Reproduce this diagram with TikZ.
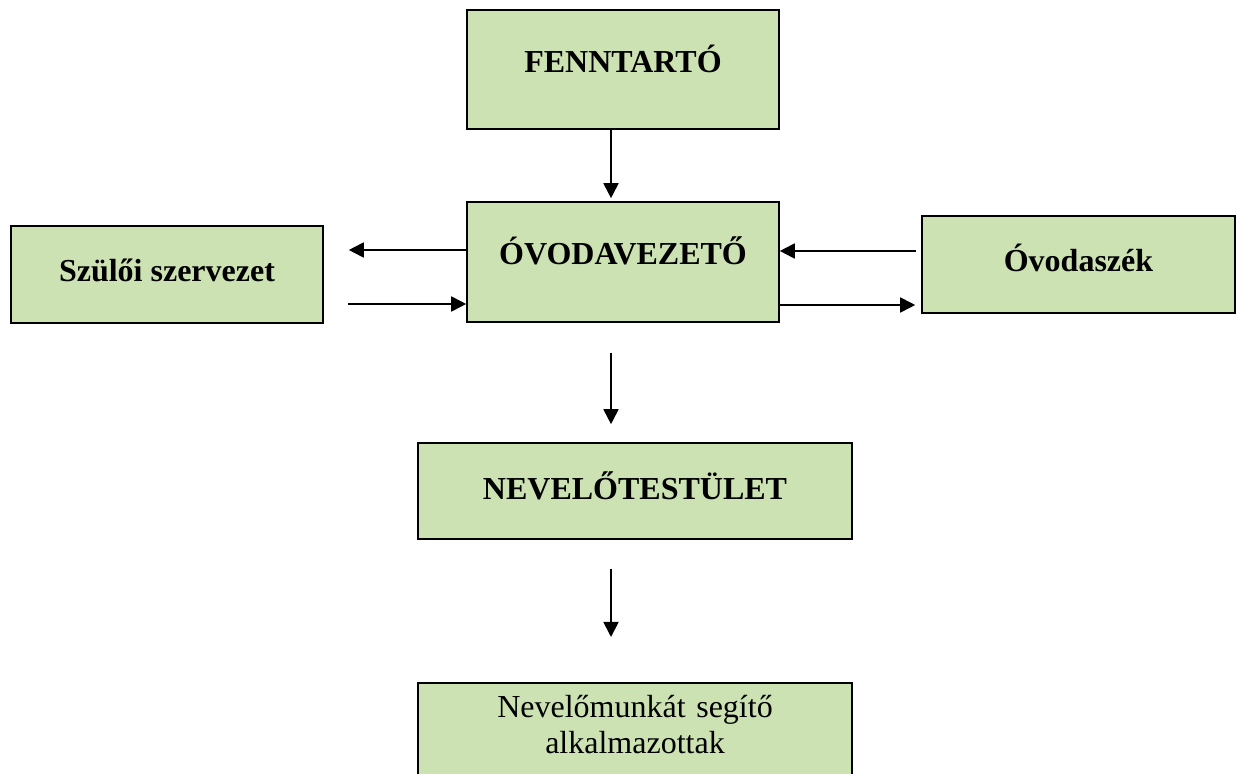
\documentclass[tikz,border=0pt]{standalone}
\usepackage{fontspec}
\setmainfont{Liberation Serif}
\usetikzlibrary{arrows.meta}
\definecolor{zold}{RGB}{205,226,178}
\tikzset{
doboz/.style={draw=black,line width=0.8pt,fill=zold,font=\fontsize{16}{18}\selectfont\bfseries,text height=11pt,inner sep=0pt},
nyil/.style={line width=0.9pt,-{Triangle[length=7.5pt,width=7.5pt]}}
}
\begin{document}
\begin{tikzpicture}[x=0.5pt,y=-0.5pt]
\clip (0,0) rectangle (1242,774);
\fill[white] (0,0) rectangle (1242,774);

%Dobozok
\node[doboz,minimum width=156pt,minimum height=59.5pt,text depth=8pt] (fenn) at (623,69.5) {FENNTARTÓ};
\node[doboz,minimum width=156pt,minimum height=60pt,text depth=8.4pt] (vez) at (623,262) {ÓVODAVEZETŐ};
\node[doboz,minimum width=156pt,minimum height=48.5pt,text depth=3.9pt] (szulo) at (167,274.5) {Szülői szervezet};
\node[doboz,minimum width=156.5pt,minimum height=48.5pt,text depth=3.9pt] (oszek) at (1078.5,264.5) {Óvodaszék};
\node[doboz,minimum width=217pt,minimum height=48pt,text depth=2.4pt] (nev) at (635,491) {NEVELŐTESTÜLET};
\node[doboz,font=\fontsize{16}{18}\selectfont,text width=207pt,align=center,anchor=north,inner xsep=5pt,inner ysep=6.5pt,text depth=60pt] (seg) at (635,682) {Nevelőmunkát segítő\\alkalmazottak};

%Nyilak
\draw[nyil,shorten >=1.5pt] ([xshift=-6pt]fenn.south) -- ([xshift=-6pt]vez.north);
\draw[nyil,shorten <=15pt,shorten >=9pt] ([xshift=-6pt]vez.south) -- ([xshift=-12pt]nev.north);
\draw[nyil,shorten <=14.5pt,shorten >=22.5pt] ([xshift=-12pt]nev.south) -- ([xshift=-12pt]seg.north);

\draw[nyil,shorten >=12.5pt] ([yshift=6pt]vez.west) -- ([yshift=6pt]vez.west -| szulo.east);
\draw[nyil,shorten <=12pt] ([yshift=-21pt]vez.west -| szulo.east) -- ([yshift=-21pt]vez.west);
\draw[nyil,shorten <=2.5pt] ([yshift=5.5pt]vez.east -| oszek.west) -- ([yshift=5.5pt]vez.east);
\draw[nyil,shorten >=3pt] ([yshift=-21.5pt]vez.east) -- ([yshift=-21.5pt]vez.east -| oszek.west);

\end{tikzpicture}
\end{document}
